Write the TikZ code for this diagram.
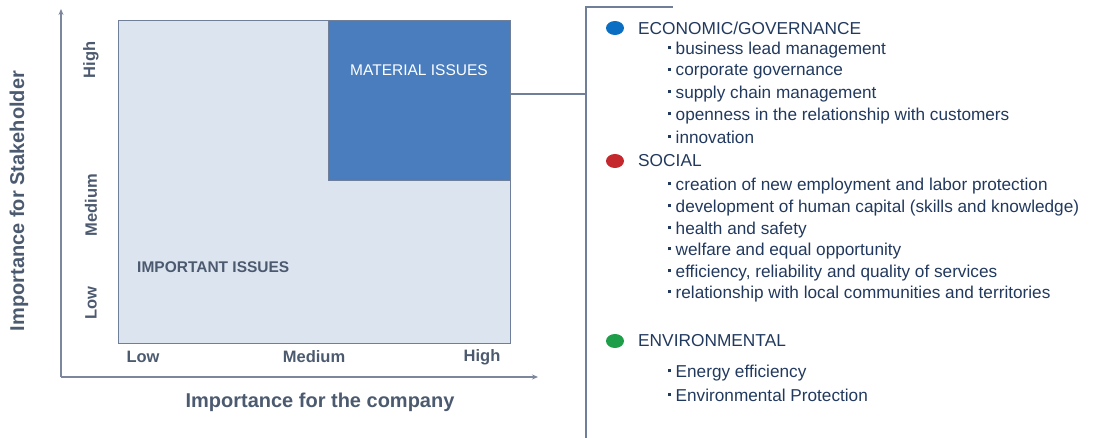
\documentclass[tikz,border=0pt]{standalone}
\usepackage{fontspec}
\setmainfont{Liberation Sans}
\usetikzlibrary{arrows.meta,shapes.geometric}
\definecolor{navy}{HTML}{22395E}
\definecolor{axisgray}{HTML}{7C879C}
\definecolor{lightbox}{HTML}{DCE4F0}
\definecolor{darkbox}{HTML}{4A7DBD}
\definecolor{boxline}{HTML}{6F7F99}
\definecolor{labelgray}{HTML}{4C5A70}
\definecolor{cblue}{HTML}{0A6FC2}
\definecolor{cred}{HTML}{C4272C}
\definecolor{cgreen}{HTML}{1E9E48}
\newcommand\itembul{\raisebox{0.55ex}{\rule{3pt}{3pt}}\hspace{4.5pt}}
\tikzset{
  axisline/.style={draw=axisgray, line width=1.6pt, -{Stealth[length=6pt,width=5pt]}},
  conn/.style={draw=boxline, line width=1.1pt},
  ticklab/.style={font=\fontsize{16.5}{18}\selectfont\bfseries, text=labelgray, inner sep=0pt},
  axislab/.style={font=\fontsize{20}{22}\selectfont\bfseries, text=labelgray, inner sep=0pt},
  head/.style={font=\fontsize{17.3}{19}\selectfont, text=navy, anchor=west, inner sep=0pt},
  item/.style={font=\fontsize{17.2}{19}\selectfont, text=navy, anchor=west, inner sep=0pt},
  dotmark/.style={ellipse, minimum width=18pt, minimum height=14pt, inner sep=0pt},
}
\begin{document}
\begin{tikzpicture}[x={(1pt,0)}, y={(0,-1pt)}]
\useasboundingbox (0,0) rectangle (1095,438);
% grid
\node[draw=boxline, line width=1.1pt, fill=lightbox, minimum width=392pt, minimum height=323pt, inner sep=0pt, anchor=north west] (grid) at (118,20) {};
\node[draw=boxline, line width=0.8pt, fill=darkbox, minimum width=182pt, minimum height=160pt, inner sep=0pt, anchor=north east] (mat) at (grid.north east) {};
\node[font=\fontsize{15.5}{17}\selectfont, text=white, inner sep=0pt] (matlab) at (419,70) {MATERIAL ISSUES};
\node[font=\fontsize{15.5}{17}\selectfont\bfseries, text=labelgray, inner sep=0pt, anchor=west] (implab) at (137,267) {IMPORTANT ISSUES};
% axes
\coordinate (origin) at (61,377);
\coordinate (ytip) at (61,9);
\coordinate (xtip) at (538,377);
\draw[axisline] (origin) -- (ytip);
\draw[axisline] (origin) -- (xtip);
% tick labels
\node[ticklab] (xl) at (143,357) {Low};
\node[ticklab] (xm) at (314,357) {Medium};
\node[ticklab] (xh) at (482,357) {High};
\node[ticklab, rotate=90] (yh) at (91,60) {High};
\node[ticklab, rotate=90] (ym) at (91,205) {Medium};
\node[ticklab, rotate=90] (yl) at (91,303) {Low};
\node[axislab] (xaxis) at (320,402) {Importance for the company};
\node[axislab, rotate=90] (yaxis) at (19,201) {Importance for Stakeholder};
% connector / bracket
\coordinate (junc) at (586,94);
\coordinate (brtop) at (673,7);
\coordinate (brbot) at (586,438);
\draw[conn] (junc -| mat.east) -- (junc);
\draw[conn] (brtop) -| (brbot);
% right list
\node[dotmark, fill=cblue] (d1) at (615,28) {};
\node[head] (h1) at (638,28) {ECONOMIC/GOVERNANCE};
\node[item] (i11) at (668,50) {\itembul business lead management};
\node[item] (i12) at (668,72) {\itembul corporate governance};
\node[item] (i13) at (668,94) {\itembul supply chain management};
\node[item] (i14) at (668,116) {\itembul openness in the relationship with customers};
\node[item] (i15) at (668,137) {\itembul innovation};
\node[dotmark, fill=cred] (d2) at (615,161) {};
\node[head] (h2) at (638,161) {SOCIAL};
\node[item] (i21) at (668,186) {\itembul creation of new employment and labor protection};
\node[item] (i22) at (668,208) {\itembul development of human capital (skills and knowledge)};
\node[item] (i23) at (668,230) {\itembul health and safety};
\node[item] (i24) at (668,251) {\itembul welfare and equal opportunity};
\node[item] (i25) at (668,273) {\itembul efficiency, reliability and quality of services};
\node[item] (i26) at (668,294) {\itembul relationship with local communities and territories};
\node[dotmark, fill=cgreen] (d3) at (615,341) {};
\node[head] (h3) at (638,341) {ENVIRONMENTAL};
\node[item] (i31) at (668,373) {\itembul Energy efficiency};
\node[item] (i32) at (668,395) {\itembul Environmental Protection};
\end{tikzpicture}
\end{document}
